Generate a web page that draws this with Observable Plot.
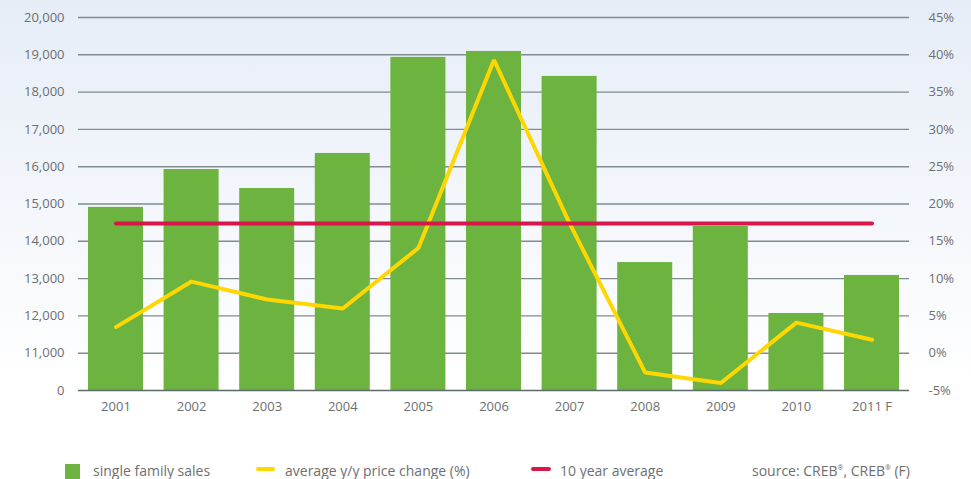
<!DOCTYPE html>
<html>
<head>
<meta charset="utf-8">
<script src="https://cdn.jsdelivr.net/npm/d3@7"></script>
<script src="https://cdn.jsdelivr.net/npm/@observablehq/plot@0.6"></script>
<style>
  html, body { margin: 0; padding: 0; }
  body {
    width: 971px; height: 479px; overflow: hidden; position: relative;
    background: linear-gradient(to bottom, #e6edf7 0px, #f3f6fb 200px, #ffffff 385px, #ffffff 479px);
    font-family: "Open Sans", sans-serif;
  }
  #chart { position: absolute; left: 0; top: 0; }
  .leg { position: absolute; top: 461px; font-size: 14px; color: #6d6f71; white-space: nowrap; line-height: 20px; }
  .leg sup { font-size: 7px; vertical-align: 6px; line-height: 0; }
  .sw { position: absolute; }
</style>
</head>
<body>
<div id="chart"></div>
<div class="sw" style="left:65px;top:464px;width:15px;height:15px;background:#6db33f"></div>
<div class="leg" style="left:93px">single family sales</div>
<div class="sw" style="left:256px;top:467px;width:19px;height:4px;border-radius:2px;background:#ffd700"></div>
<div class="leg" style="left:285px">average y/y price change (%)</div>
<div class="sw" style="left:531px;top:467px;width:20px;height:4px;border-radius:2px;background:#d7174a"></div>
<div class="leg" style="left:560px">10 year average</div>
<div class="leg" style="left:752px">source: CREB<sup>®</sup>, CREB<sup>®</sup> (F)</div>
<script>
const years = ["2001","2002","2003","2004","2005","2006","2007","2008","2009","2010","2011 F"];
const sales = [14910, 15925, 15415, 16355, 18930, 19090, 18420, 13430, 14400, 12065, 13085];
const priceChange = [3.5, 9.6, 7.2, 6.0, 14.1, 39.3, 17.4, -2.6, -4.0, 4.1, 1.8];
const tenYearAverage = 14480;
const leftTicks = [10000, 11000, 12000, 13000, 14000, 15000, 16000, 17000, 18000, 19000, 20000];
const rightTicks = [-5, 0, 5, 10, 15, 20, 25, 30, 35, 40, 45];

// right axis (%) mapped onto the left axis domain: -5% ↔ 10,000, 45% ↔ 20,000
const pctToY = p => 10000 + (p + 5) * 200;
const yToPct = v => Math.round((v - 10000) / 200 - 5);

const bars = years.map((year, i) => ({year, sales: sales[i]}));
const change = years.map((year, i) => ({year, v: pctToY(priceChange[i])}));
const avg = years.map(year => ({year, v: tenYearAverage}));

const chart = Plot.plot({
  width: 971,
  height: 440,
  marginTop: 17,
  marginBottom: 50,
  marginLeft: 78,
  marginRight: 62,
  style: {fontFamily: "Open Sans, sans-serif", fontSize: "13px", color: "#6d6f71", background: "transparent"},
  x: {domain: years, paddingInner: 0.2725, paddingOuter: 0.132, round: false, label: null},
  y: {domain: [10000, 20000], label: null},
  marks: [
    Plot.ruleY(leftTicks.slice(1), {stroke: "#808c8e", strokeWidth: 1.4}),
    Plot.barY(bars, {x: "year", y1: 10000, y2: "sales", fill: "#6db33f"}),
    Plot.ruleY([10000], {stroke: "#5d6a6a", strokeWidth: 1.5}),
    Plot.lineY(change, {x: "year", y: "v", stroke: "#ffd700", strokeWidth: 4, strokeLinejoin: "miter", strokeLinecap: "round"}),
    Plot.lineY(avg, {x: "year", y: "v", stroke: "#d7174a", strokeWidth: 4, strokeLinecap: "round"}),
    Plot.axisX({tickSize: 0, tickPadding: 11, fontSize: 13, fill: "#6d6f71"}),
    Plot.axisY(leftTicks, {anchor: "left", tickSize: 0, tickPadding: 14, fontSize: 13, fill: "#6d6f71",
      tickFormat: d => d === 10000 ? "0" : d3.format(",")(d)}),
    Plot.axisY(rightTicks.map(pctToY), {anchor: "right", tickSize: 0, tickPadding: 19, fontSize: 13, fill: "#6d6f71",
      tickFormat: d => yToPct(d) + "%"})
  ]
});
document.getElementById("chart").appendChild(chart);
</script>
</body>
</html>
